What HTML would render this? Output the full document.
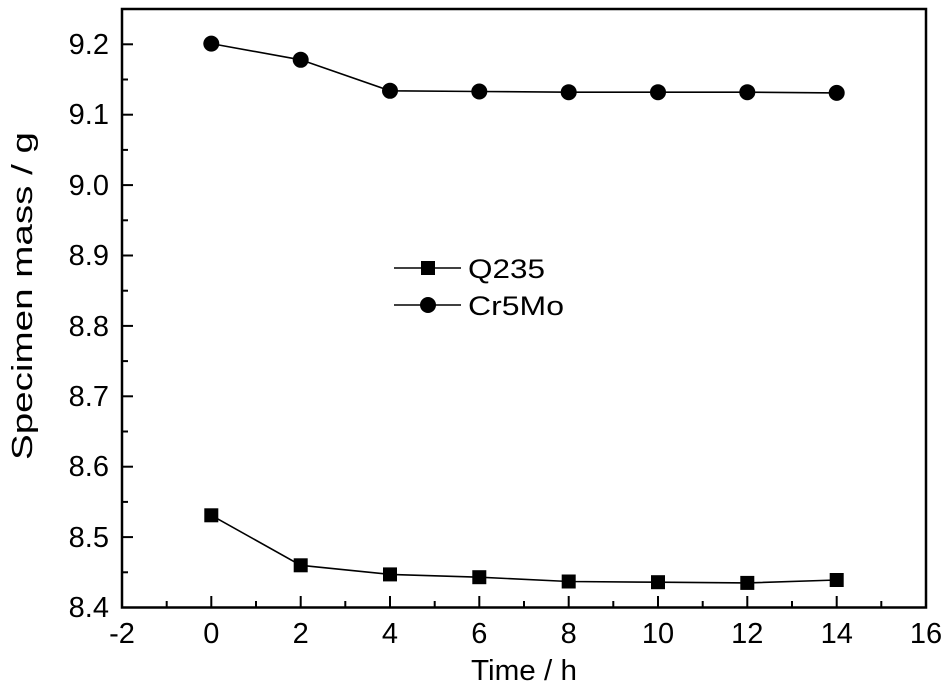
<!DOCTYPE html>
<html><head><style>body{margin:0;background:#fff}svg{display:block}</style></head><body>
<svg width="945" height="686" xmlns="http://www.w3.org/2000/svg" font-family="Liberation Sans, Arial, sans-serif" font-size="29">
<rect x="122" y="9" width="804" height="598.5" fill="none" stroke="#000" stroke-width="2.5"/>
<g stroke="#000" stroke-width="2">
<line x1="211.3" y1="607" x2="211.3" y2="596"/><line x1="300.7" y1="607" x2="300.7" y2="596"/><line x1="390" y1="607" x2="390" y2="596"/><line x1="479.3" y1="607" x2="479.3" y2="596"/><line x1="568.7" y1="607" x2="568.7" y2="596"/><line x1="658" y1="607" x2="658" y2="596"/><line x1="747.3" y1="607" x2="747.3" y2="596"/><line x1="836.7" y1="607" x2="836.7" y2="596"/>
<line x1="166.7" y1="607" x2="166.7" y2="601"/><line x1="256" y1="607" x2="256" y2="601"/><line x1="345.3" y1="607" x2="345.3" y2="601"/><line x1="434.7" y1="607" x2="434.7" y2="601"/><line x1="524" y1="607" x2="524" y2="601"/><line x1="613.3" y1="607" x2="613.3" y2="601"/><line x1="702.7" y1="607" x2="702.7" y2="601"/><line x1="792" y1="607" x2="792" y2="601"/><line x1="881.3" y1="607" x2="881.3" y2="601"/>
<line x1="122" y1="537.1" x2="133" y2="537.1"/><line x1="122" y1="466.7" x2="133" y2="466.7"/><line x1="122" y1="396.3" x2="133" y2="396.3"/><line x1="122" y1="325.9" x2="133" y2="325.9"/><line x1="122" y1="255.5" x2="133" y2="255.5"/><line x1="122" y1="185.1" x2="133" y2="185.1"/><line x1="122" y1="114.7" x2="133" y2="114.7"/><line x1="122" y1="44.3" x2="133" y2="44.3"/>
<line x1="122" y1="572.3" x2="128" y2="572.3"/><line x1="122" y1="501.9" x2="128" y2="501.9"/><line x1="122" y1="431.5" x2="128" y2="431.5"/><line x1="122" y1="361.1" x2="128" y2="361.1"/><line x1="122" y1="290.7" x2="128" y2="290.7"/><line x1="122" y1="220.3" x2="128" y2="220.3"/><line x1="122" y1="149.9" x2="128" y2="149.9"/><line x1="122" y1="79.5" x2="128" y2="79.5"/>
</g>
<g text-anchor="middle">
<text x="122" y="643">-2</text><text x="211.3" y="643">0</text><text x="300.7" y="643">2</text><text x="390" y="643">4</text><text x="479.3" y="643">6</text><text x="568.7" y="643">8</text><text x="658" y="643">10</text><text x="747.3" y="643">12</text><text x="836.7" y="643">14</text><text x="926" y="643">16</text>
<text x="524" y="680" textLength="106" lengthAdjust="spacingAndGlyphs">Time / h</text>
</g>
<g text-anchor="end">
<text x="109" y="617">8.4</text><text x="109" y="547">8.5</text><text x="109" y="476">8.6</text><text x="109" y="406">8.7</text><text x="109" y="336">8.8</text><text x="109" y="265">8.9</text><text x="109" y="195">9.0</text><text x="109" y="124">9.1</text><text x="109" y="54">9.2</text>
</g>
<text transform="translate(32,296) rotate(-90)" text-anchor="middle" textLength="328" lengthAdjust="spacingAndGlyphs">Specimen mass / g</text>
<polyline fill="none" stroke="#000" stroke-width="1.6" points="211.3,515.3 300.7,565.3 390,574.4 479.3,577.2 568.7,581.5 658,582.2 747.3,582.9 836.7,580"/>
<polyline fill="none" stroke="#000" stroke-width="1.6" points="211.3,43.6 300.7,59.8 390,90.8 479.3,91.5 568.7,92.2 658,92.2 747.3,92.2 836.7,92.9"/>
<g fill="#000">
<rect x="204.3" y="508.3" width="14" height="14"/><rect x="293.7" y="558.3" width="14" height="14"/><rect x="383" y="567.4" width="14" height="14"/><rect x="472.3" y="570.2" width="14" height="14"/><rect x="561.7" y="574.5" width="14" height="14"/><rect x="651" y="575.2" width="14" height="14"/><rect x="740.3" y="575.9" width="14" height="14"/><rect x="829.7" y="573" width="14" height="14"/>
<circle cx="211.3" cy="43.6" r="8"/><circle cx="300.7" cy="59.8" r="8"/><circle cx="390" cy="90.8" r="8"/><circle cx="479.3" cy="91.5" r="8"/><circle cx="568.7" cy="92.2" r="8"/><circle cx="658" cy="92.2" r="8"/><circle cx="747.3" cy="92.2" r="8"/><circle cx="836.7" cy="92.9" r="8"/>
<line x1="394" y1="268" x2="461" y2="268" stroke="#000" stroke-width="1.6"/><rect x="421" y="261" width="14" height="14"/>
<line x1="394" y1="305" x2="461" y2="305" stroke="#000" stroke-width="1.6"/><circle cx="428" cy="305" r="8"/>
</g>
<text x="468" y="278" font-size="27" textLength="77" lengthAdjust="spacingAndGlyphs">Q235</text>
<text x="468" y="315" font-size="27" textLength="96" lengthAdjust="spacingAndGlyphs">Cr5Mo</text>
</svg>
</body></html>
